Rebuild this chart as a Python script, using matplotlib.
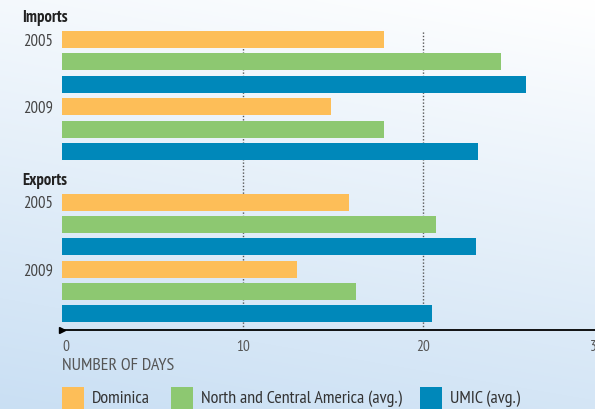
import numpy as np
import matplotlib
matplotlib.use('Agg')
import matplotlib.pyplot as plt
from matplotlib.patches import Rectangle
from matplotlib.transforms import blended_transform_factory

# ---------------- data ----------------
sections = ['Imports', 'Exports']
years = ['2005', '2009']
series = ['Dominica', 'North and Central America (avg.)', 'UMIC (avg.)']
colors = ['#FDBE58', '#8DC871', '#0088BA']
imports_2005 = [17.8, 24.3, 25.7]
imports_2009 = [14.9, 17.8, 23.0]
exports_2005 = [15.9, 20.7, 22.9]
exports_2009 = [13.0, 16.3, 20.5]
xticks = [0, 10, 20, 30]
xlabel = 'NUMBER OF DAYS'

values = {('Imports', '2005'): imports_2005, ('Imports', '2009'): imports_2009,
          ('Exports', '2005'): exports_2005, ('Exports', '2009'): exports_2009}

FONT = ['PT Sans Narrow', 'Roboto Condensed', 'DejaVu Sans']
plt.rcParams['font.family'] = FONT

W, H = 595, 409
fig = plt.figure(figsize=(W / 100, H / 100), dpi=100)

# ---------------- background gradient ----------------
bg = fig.add_axes([0, 0, 1, 1], zorder=-10)
ny, nx = 200, 200
yy, xx = np.mgrid[0:1:ny * 1j, 0:1:nx * 1j]   # yy=0 top
t = np.clip(yy * 0.8 + (1 - xx) * 0.2, 0, 1)
c0 = np.array([1.0, 1.0, 1.0])
c1 = np.array([0.79, 0.875, 0.955])
img = c0[None, None, :] * (1 - t[..., None]) + c1[None, None, :] * t[..., None]
bg.imshow(img, aspect='auto', extent=[0, 1, 1, 0], interpolation='bilinear')
bg.set_axis_off()

# ---------------- main axes (pixel-based y) ----------------
x0_px, x30_px = 62, 604
axis_y, top_y = 330, 25
ax = fig.add_axes([x0_px / W, 1 - axis_y / H, (x30_px - x0_px) / W, (axis_y - top_y) / H])
ax.patch.set_visible(False)
ax.set_xlim(0, 30)
ax.set_ylim(axis_y, top_y)

first_center = 39.5
pitch = 22.4
section_gap = 50.5
bar_h = 17

centers = {}
y = first_center
for si, sec in enumerate(sections):
    if si > 0:
        y += section_gap - pitch
    for yi, yr in enumerate(years):
        for k in range(len(series)):
            centers[(sec, yr, k)] = y
            y += pitch

for sec in sections:
    for yr in years:
        vals = values[(sec, yr)]
        for k, v in enumerate(vals):
            ax.barh(centers[(sec, yr, k)], v, height=bar_h, color=colors[k],
                    zorder=3, linewidth=0)

# dotted gridlines
for gx in [10, 20]:
    ax.plot([gx, gx], [axis_y, first_center - bar_h / 2], color='#555555',
            lw=1.0, linestyle=(0, (1, 1.4)), zorder=1)

for s in ['top', 'right', 'left']:
    ax.spines[s].set_visible(False)
ax.spines['bottom'].set_color('black')
ax.spines['bottom'].set_linewidth(1.3)
ax.plot([0], [axis_y], marker='>', color='black', markersize=5, clip_on=False, zorder=5)
ax.set_yticks([])
ax.set_xticks(xticks)
ax.set_xticklabels([str(v) for v in xticks])
ax.tick_params(axis='x', length=0, pad=7, labelsize=11, labelcolor='#555555')
xtl = ax.get_xticklabels()
xtl[0].set_ha('left')
xtl[-1].set_ha('right')

# section and year labels
tr = blended_transform_factory(fig.transFigure, ax.transData)
for sec in sections:
    c = centers[(sec, years[0], 0)]
    ax.text(22 / W, c - 21, sec, transform=tr, ha='left', va='center',
            fontsize=12, fontweight='bold', color='#222222')
    for yr in years:
        c = centers[(sec, yr, 0)]
        ax.text(23 / W, c + 2, yr, transform=tr, ha='left', va='center',
                fontsize=12, color='#444444')

fig.text(x0_px / W, 1 - 366 / H, xlabel, ha='left', va='center', fontsize=13,
         color='#555555')

# legend (manual)
leg_x = [62, 171, 420]
sq = 22
leg_y = 398
for k, name in enumerate(series):
    fig.patches.append(Rectangle((leg_x[k] / W, 1 - (leg_y + 11) / H), sq / W, sq / H,
                                 transform=fig.transFigure, color=colors[k], lw=0))
    fig.text((leg_x[k] + sq + 8) / W, 1 - (leg_y + 1) / H, name, ha='left', va='center',
             fontsize=13, color='#333333')

fig.savefig('out.png', dpi=100)
